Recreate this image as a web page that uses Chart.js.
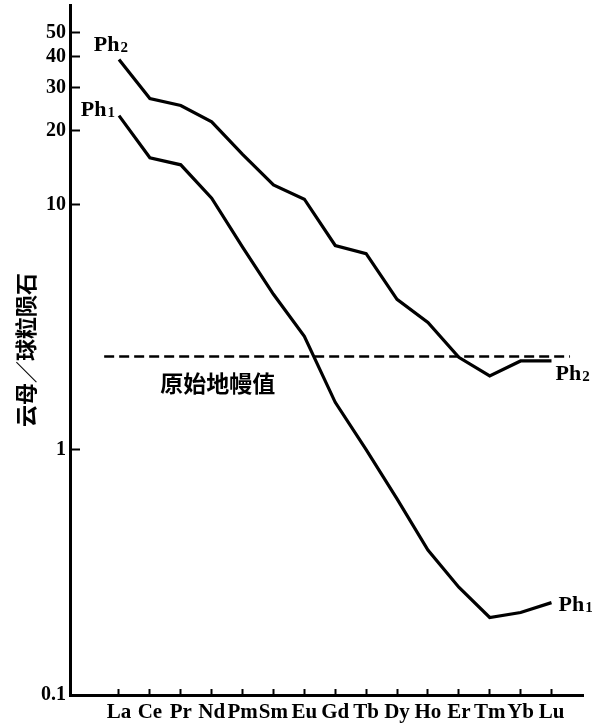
<!DOCTYPE html>
<html>
<head>
<meta charset="utf-8">
<script src="https://cdn.jsdelivr.net/npm/chart.js@4/dist/chart.umd.min.js"></script>
<style>
  html, body { margin: 0; padding: 0; background: #fff; }
  #wrap { width: 592px; height: 725px; position: relative; }
</style>
</head>
<body>
<div id="wrap"><canvas id="c" width="592" height="725"></canvas></div>
<script>
// ---- data ----
const categories = ['La','Ce','Pr','Nd','Pm','Sm','Eu','Gd','Tb','Dy','Ho','Er','Tm','Yb','Lu'];
const ph2Values = [39, 27, 25.3, 21.7, 16, 12, 10.5, 6.8, 6.3, 4.1, 3.3, 2.38, 2.0, 2.3, 2.3];
const ph1Values = [23, 15.5, 14.5, 10.6, 6.7, 4.3, 2.9, 1.56, 1.0, 0.63, 0.39, 0.275, 0.207, 0.217, 0.238];
const mantleValue = 2.4;            // 原始地幔值
const mantleSpan = [-0.48, 14.6];   // extent of the dashed line in category units
const yTickValues = [0.1, 1, 10, 20, 30, 40, 50];
const seriesNames = ['Ph1', 'Ph2'];
const yTitle = '云母／球粒陨石';
const mantleLabel = '原始地幔值';

const serif = "'Liberation Serif', 'DejaVu Serif', serif";
const cjk = "'Noto Sans CJK SC', 'Noto Sans CJK JP', sans-serif";

const toPts = arr => arr.map((v, i) => ({ x: i, y: v }));

const labelPlugin = {
  id: 'labels',
  afterDatasetsDraw(chart) {
    const ctx = chart.ctx;
    const xs = chart.scales.x, ys = chart.scales.y;
    function drawPh(name, x, cy, align) {
      const main = name.slice(0, 2), sub = name.slice(2);
      ctx.save();
      ctx.fillStyle = '#000';
      ctx.textBaseline = 'alphabetic';
      ctx.textAlign = 'left';
      ctx.font = 'bold 22px ' + serif;
      const w1 = ctx.measureText(main).width;
      ctx.font = 'bold 15px ' + serif;
      const w2 = ctx.measureText(sub).width;
      const total = w1 + w2 + 1;
      const left = align === 'right' ? x - total : x;
      const base = cy + 7.5;
      ctx.font = 'bold 22px ' + serif;
      ctx.fillText(main, left, base);
      ctx.font = 'bold 15px ' + serif;
      ctx.fillText(sub, left + w1 + 1, base + 1);
      ctx.restore();
    }
    const m1 = chart.getDatasetMeta(0).data;   // Ph1
    const m2 = chart.getDatasetMeta(1).data;   // Ph2
    const f1 = m1[0], l1 = m1[m1.length - 1];
    const f2 = m2[0], l2 = m2[m2.length - 1];
    drawPh(seriesNames[1], f2.x + 9, f2.y - 16, 'right');
    drawPh(seriesNames[0], f1.x - 4, f1.y - 7, 'right');
    drawPh(seriesNames[1], l2.x + 4, l2.y + 12, 'left');
    drawPh(seriesNames[0], l1.x + 7, l1.y + 1, 'left');

    ctx.save();
    ctx.fillStyle = '#000';
    ctx.font = 'bold 23px ' + cjk;
    ctx.textAlign = 'center';
    ctx.textBaseline = 'middle';
    ctx.fillText(mantleLabel, xs.getPixelForValue(3.2), ys.getPixelForValue(mantleValue) + 27);
    ctx.restore();
  }
};

new Chart(document.getElementById('c'), {
  type: 'line',
  data: {
    datasets: [
      { label: seriesNames[0], data: toPts(ph1Values), borderColor: '#000', borderWidth: 3.2,
        pointRadius: 0, tension: 0, fill: false },
      { label: seriesNames[1], data: toPts(ph2Values), borderColor: '#000', borderWidth: 3.2,
        pointRadius: 0, tension: 0, fill: false },
      { label: mantleLabel, data: mantleSpan.map(x => ({ x: x, y: mantleValue })), borderColor: '#000',
        borderWidth: 2.5, borderDash: [10, 5], pointRadius: 0, tension: 0, fill: false }
    ]
  },
  options: {
    responsive: false,
    animation: false,
    events: [],
    layout: { padding: { top: 5, right: 9, left: 0, bottom: 0 } },
    plugins: { legend: { display: false }, tooltip: { enabled: false } },
    scales: {
      x: {
        type: 'linear',
        min: -1.586,
        max: 15.02,
        afterBuildTicks: s => { s.ticks = categories.map((_, i) => ({ value: i })); },
        afterFit: s => { s.height = 30; s.paddingLeft = 0; s.paddingRight = 0; },
        ticks: {
          autoSkip: false, maxRotation: 0, minRotation: 0, padding: 11,
          color: '#000', font: { family: serif, size: 21, weight: 'bold' },
          callback: v => categories[v]
        },
        grid: { display: true, drawOnChartArea: false, drawTicks: true, tickLength: -6,
                tickColor: '#000', tickWidth: 2 },
        border: { display: true, color: '#000', width: 3 }
      },
      y: {
        type: 'logarithmic',
        min: 0.1,
        max: 65,
        afterBuildTicks: s => { s.ticks = yTickValues.map(v => ({ value: v })); },
        afterFit: s => { s.width = 70; s.paddingTop = 0; s.paddingBottom = 0; },
        ticks: {
          autoSkip: false, padding: 14,
          color: '#000', font: { family: serif, size: 20, weight: 'bold' },
          callback: v => String(v)
        },
        grid: { display: true, drawOnChartArea: false, drawTicks: true, tickLength: -10,
                tickColor: '#000', tickWidth: 2 },
        border: { display: true, color: '#000', width: 3 },
        title: { display: true, text: yTitle, color: '#000', padding: { top: 12, bottom: 0 },
                 font: { family: cjk, size: 22, weight: 'bold' } }
      }
    }
  },
  plugins: [labelPlugin]
});
</script>
</body>
</html>
